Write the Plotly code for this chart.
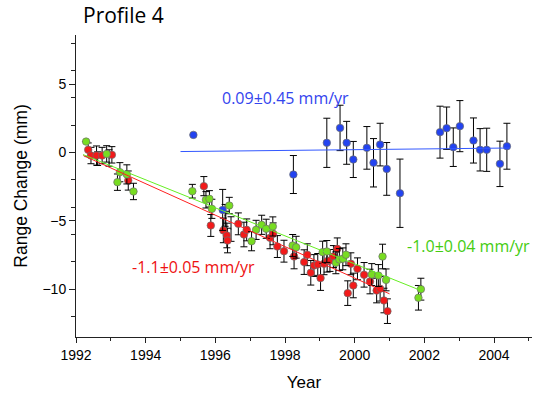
import plotly.graph_objects as go

# ---- data ----
red_x = [1992.35, 1992.43, 1992.59, 1992.75, 1993.03, 1993.50,
         1995.67, 1995.87, 1996.23, 1996.33, 1996.35, 1996.66, 1996.82, 1996.90,
         1997.57, 1997.66, 1997.78, 1997.97, 1998.26, 1998.55, 1998.64, 1998.74,
         1998.83, 1998.94, 1999.02, 1999.12, 1999.21, 1999.29, 1999.39, 1999.50,
         1999.80, 1999.89, 1999.96, 2000.08, 2000.27, 2000.44, 2000.63, 2000.73,
         2000.84, 2000.94]
red_y = [0.20, -0.22, -0.22, -0.22, -0.17, -2.05,
         -2.46, -5.34, -5.70, -6.07, -6.44, -5.22, -6.00, -5.66,
         -6.24, -5.95, -6.88, -7.22, -7.61, -8.02, -7.48, -8.80,
         -8.27, -8.19, -9.19, -8.14, -7.95, -7.90, -7.61, -7.05,
         -10.29, -8.14, -9.73, -8.51, -8.95, -9.44, -10.10, -9.97,
         -10.83, -11.61]
red_err = [0.5, 0.6, 0.7, 0.6, 0.6, 0.7,
           0.7, 0.8, 0.9, 0.9, 0.9, 0.8, 0.9, 0.8,
           0.8, 0.8, 0.8, 0.8, 0.9, 0.9, 0.8, 0.9,
           0.8, 0.8, 0.9, 0.8, 0.8, 0.8, 0.8, 0.8,
           0.9, 0.8, 0.9, 0.8, 0.9, 0.9, 0.9, 0.9,
           0.9, 0.9]

green_x = [1992.29, 1992.88, 1993.26, 1993.46, 1993.19, 1993.65,
           1995.34, 1995.73, 1995.83, 1995.90, 1996.40,
           1997.04, 1997.17, 1997.33, 1997.46, 1997.65,
           1998.22, 1998.32, 1999.08, 1999.20, 1999.46, 1999.56, 1999.66, 1999.75,
           2000.49, 2000.68, 2000.80, 2000.90, 2001.90, 2001.83]
green_y = [0.80, -0.10, -1.44, -1.60, -2.17, -2.85,
           -2.83, -3.46, -3.39, -4.12, -3.88,
           -6.49, -5.66, -5.29, -5.58, -5.41,
           -6.80, -6.93, -7.29, -7.24, -8.07, -7.83, -7.78, -7.48,
           -8.93, -9.00, -7.61, -9.32, -10.00, -10.63]
green_err = [0.0, 0.6, 0.7, 0.7, 0.6, 0.6,
             0.5, 0.6, 0.6, 0.7, 0.6,
             0.7, 0.7, 0.7, 0.7, 0.7,
             0.8, 0.8, 0.8, 0.8, 0.8, 0.8, 0.8, 0.8,
             0.8, 0.8, 0.9, 0.8, 0.8, 0.9]

blue_x = [1995.37, 1996.21, 1998.24, 1999.20, 1999.58, 1999.77, 1999.96, 2000.35,
          2000.54, 2000.73, 2000.92, 2001.30, 2002.45, 2002.64, 2002.83,
          2003.02, 2003.41, 2003.60, 2003.79, 2004.17, 2004.37]
blue_y = [1.29, -4.20, -1.61, 0.71, 1.80, 0.71, -0.51, 0.34,
          -0.75, 0.58, -1.20, -2.98, 1.49, 1.78, 0.39,
          1.93, 0.88, 0.20, 0.20, -0.83, 0.46]
blue_err = [0.0, 1.5, 1.39, 1.80, 1.66, 1.57, 1.32, 1.56,
            1.77, 1.56, 1.93, 2.50, 1.90, 1.55, 1.41,
            1.87, 1.65, 1.55, 1.58, 1.66, 1.68]

# error bars whose markers are hidden
hidden_x = [1992.62, 1992.95, 1996.28, 1996.30, 1996.45]
hidden_y = [-0.45, -0.40, -4.60, -5.10, -5.60]
hidden_err = [0.5, 0.6, 0.8, 0.8, 0.9]

# fitted trend lines (endpoints)
red_fit_x = [1992.21, 2001.0]
red_fit_y = [-0.22, -10.34]
green_fit_x = [1992.2, 2001.95]
green_fit_y = [-0.15, -10.15]
blue_fit_x = [1995.0, 2004.45]
blue_fit_y = [0.07, 0.33]

RED = "#f21a1a"
GREEN = "#78dc22"
BLUE = "#2343f0"

fig = go.Figure()

def err(arr):
    return dict(type="data", array=arr, visible=True, color="black",
                thickness=1, width=3.5)

mline = dict(color="rgba(110,110,110,0.7)", width=1)
fig.add_trace(go.Scatter(x=hidden_x, y=hidden_y, mode="markers",
                         marker=dict(size=1, color="black"),
                         error_y=err(hidden_err), showlegend=False))
fig.add_trace(go.Scatter(x=red_x, y=red_y, mode="markers",
                         marker=dict(size=7.5, color=RED, line=mline),
                         error_y=err(red_err), showlegend=False))
fig.add_trace(go.Scatter(x=green_x, y=green_y, mode="markers",
                         marker=dict(size=7.5, color=GREEN, line=mline),
                         error_y=err(green_err), showlegend=False))
fig.add_trace(go.Scatter(x=blue_x, y=blue_y, mode="markers",
                         marker=dict(size=7.5, color=BLUE, line=mline),
                         error_y=err(blue_err), showlegend=False))

fig.add_trace(go.Scatter(x=red_fit_x, y=red_fit_y, mode="lines",
                         line=dict(color="#ff2020", width=1), showlegend=False))
fig.add_trace(go.Scatter(x=green_fit_x, y=green_fit_y, mode="lines",
                         line=dict(color="#66ee22", width=1), showlegend=False))
fig.add_trace(go.Scatter(x=blue_fit_x, y=blue_fit_y, mode="lines",
                         line=dict(color="#3358ff", width=1), showlegend=False))

ann_font = "Open Sans, Noto Sans, sans-serif"
fig.update_layout(
    width=535, height=399,
    margin=dict(l=76, r=3, t=35, b=62),
    paper_bgcolor="white", plot_bgcolor="white",
    font=dict(family="Liberation Sans, Arial, sans-serif", color="black", size=14),
    xaxis=dict(range=[1992, 2005.09], dtick=2, tick0=1992, ticks="outside",
               ticklen=5, tickcolor="#222", showline=True, linecolor="#222",
               linewidth=1, showgrid=False, zeroline=False,
               tickfont=dict(size=14),
               title=dict(text="Year", font=dict(size=17), standoff=14),
               minor=dict(dtick=1, ticks="outside", ticklen=3, tickcolor="#222")),
    yaxis=dict(range=[-13.5, 8.6], dtick=5, tick0=0, ticks="outside",
               ticklen=6, tickcolor="#222", showline=True, linecolor="#222",
               linewidth=1, showgrid=False, zeroline=False,
               tickfont=dict(size=14),
               title=dict(text="Range Change (mm)", font=dict(size=17.5), standoff=10),
               minor=dict(dtick=2, tick0=0, ticks="outside", ticklen=4, tickcolor="#222")),
    annotations=[
        dict(text="Profile 4", xref="paper", yref="paper", x=0.011, y=1.066,
             xanchor="left", yanchor="middle", showarrow=False,
             font=dict(family=ann_font, size=21, color="black")),
        dict(text="0.09±0.45 mm/yr", xref="paper", yref="paper", x=0.4605, y=0.791,
             xanchor="center", yanchor="middle", showarrow=False,
             font=dict(family=ann_font, size=16, color="#3344ee")),
        dict(text="-1.1±0.05 mm/yr", xref="paper", yref="paper", x=0.2566, y=0.2318,
             xanchor="center", yanchor="middle", showarrow=False,
             font=dict(family=ann_font, size=16, color="#ee1111")),
        dict(text="-1.0±0.04 mm/yr", xref="paper", yref="paper", x=0.8618, y=0.3013,
             xanchor="center", yanchor="middle", showarrow=False,
             font=dict(family=ann_font, size=16, color="#44cc11")),
    ],
)

fig.write_html("out.html")
